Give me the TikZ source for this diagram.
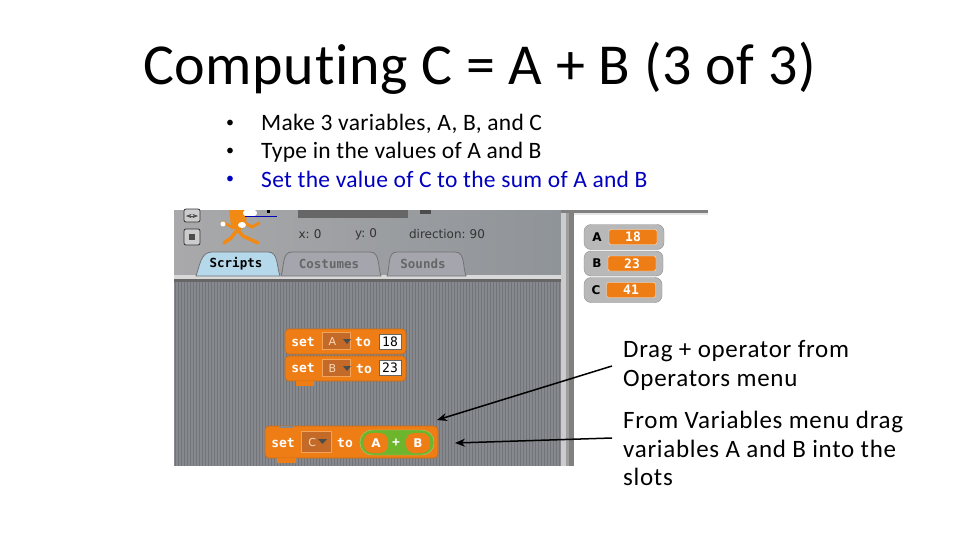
\documentclass[tikz,border=0pt]{standalone}
\usepackage{fontspec}
\setmainfont{Carlito}[RawFeature=-liga]
\newfontfamily\titlefont{Carlito}[LetterSpace=1.15,RawFeature=-liga]
\newfontfamily\bodyfont{Carlito}[LetterSpace=1.3,RawFeature=-liga]
\newfontfamily\notefont{Carlito}[LetterSpace=2.8,RawFeature=-liga]
\newfontfamily\blockfont{DejaVu Sans}
\newfontfamily\pixelfont{DejaVu Sans Mono}
\usetikzlibrary{arrows.meta}
\definecolor{blockorange}{HTML}{EE7D16}
\definecolor{slotbrown}{HTML}{C46A28}
\definecolor{panelgray}{HTML}{A9A9AB}
\definecolor{panelblue}{HTML}{8F9498}
\definecolor{stripegray}{HTML}{868A8E}
\definecolor{stripedark}{HTML}{72747A}
\definecolor{tabgray}{HTML}{A4A5AD}
\definecolor{tabblue}{HTML}{B5D8EA}
\definecolor{opgreen}{HTML}{6CB52D}
\definecolor{linkblue}{HTML}{0000C0}
\tikzset{
  textline/.style={anchor=base west,inner sep=0pt,font=\bodyfont\fontsize{23.5}{24}\selectfont},
  noteline/.style={anchor=base west,inner sep=0pt,font=\notefont\fontsize{25}{29}\selectfont},
  bulletdot/.style={anchor=center,inner sep=0pt,font=\fontsize{16}{18}\selectfont},
  block/.style={draw=blockorange!85!black,fill=blockorange,rounded corners=4pt,line width=.6pt,inner sep=0pt},
  blocktxt/.style={inner sep=0pt,text=white,font=\pixelfont\bfseries\fontsize{13}{13}\selectfont},
  slot/.style={draw=blockorange!70!white,fill=slotbrown,inner sep=0pt,minimum width=28pt,minimum height=17pt,text=blockorange!30!white,font=\blockfont\fontsize{11}{12}\selectfont},
  numbox/.style={draw=black!60,fill=white,inner sep=0pt,minimum width=22pt,minimum height=15pt,font=\pixelfont\fontsize{13}{13}\selectfont},
  oval/.style={fill=blockorange,rounded corners=8pt,inner sep=0pt,minimum width=24pt,minimum height=20pt,text=white,font=\blockfont\bfseries\fontsize{12}{12}\selectfont},
  tabbox/.style={draw=black!55,rounded corners=6pt,line width=.8pt},
  tabtxt/.style={inner sep=0pt,font=\pixelfont\bfseries\fontsize{12.5}{13}\selectfont},
  watcher/.style={fill=black!28,draw=black!45,rounded corners=7pt,inner sep=0pt,minimum height=25pt},
  watchval/.style={fill=blockorange,draw=white!85!orange,rounded corners=2pt,inner sep=0pt,minimum height=15pt,text=white,font=\pixelfont\bfseries\fontsize{13}{13}\selectfont},
  watchname/.style={inner sep=0pt,font=\blockfont\bfseries\fontsize{12}{12}\selectfont},
  smalltxt/.style={inner sep=0pt,text=black!80,font=\blockfont\fontsize{12}{12}\selectfont},
  pointer/.style={-{Stealth[length=10pt,width=8pt]},line width=1.5pt}
}
\begin{document}
\begin{tikzpicture}[x=1pt,y=-1pt]
  \useasboundingbox (0,0) rectangle (960,540);
  \fill[white] (0,0) rectangle (960,540);
  \node[anchor=base,inner sep=0pt,font=\titlefont\fontsize{58}{60}\selectfont] (title) at (479.5,85) {Computing C = A + B (3 of 3)};
  \path (230,124) node[bulletdot] (b1) {•} (230,152) node[bulletdot] (b2) {•}
  (230,180) node[bulletdot,text=linkblue] (b3) {•};
  \node[textline] (t1) at (261,131) {Make 3 variables, A, B, and C};
  \node[textline] (t2) at (261,159) {Type in the values of A and B};
  \node[textline,text=linkblue] (t3) at (261,187) {Set the value of C to the sum of A and B};
  % screenshot
  \fill[left color=panelgray,right color=panelblue] (174,210) rectangle (561,275);
  \fill[black!15] (174,275) rectangle (566,279);
  \fill[black!60] (174,279) rectangle (561,282);
  \fill[stripegray] (174,282) rectangle (561,466);
  \foreach \i in {0,...,128}
    \draw[stripedark,line width=.9pt] (175+3*\i,282) -- (175+3*\i,466);
  \fill[black!20] (561,210) rectangle (566,466);
  \fill[black!38] (566,210) rectangle (569,466);
  \fill[black!50] (569,210) rectangle (574,466);
  \fill[black!50] (561,210) rectangle (708,213);
  \fill[black!10] (574,213) rectangle (708,215);
  \fill[black!60] (298,210) rectangle (408,218);
  \fill[black!70] (420,210) rectangle (431,214);
  % stage buttons
  \draw[black!80,fill=black!20,rounded corners=2pt,line width=.8pt] (184,209) rectangle (200,222);
  \draw[black!80,fill=black!20,rounded corners=2pt,line width=.8pt] (184,229) rectangle (200,245);
  \fill[black!70] (189,234) rectangle (195,240);
  \draw[black!70,<->,>=Stealth,line width=.6pt] (186,216) -- (198,216);
  % sprite
  \fill[blockorange!90!yellow] (229,210) -- (247,210) -- (246,226) -- (238,232) -- (231,226) -- cycle;
  \draw[blockorange!90!yellow,line width=3.5pt,line cap=round] (236,228) -- (243,236) -- (258,243);
  \draw[blockorange!90!yellow,line width=3.5pt,line cap=round] (237,230) -- (231,238) -- (224,243);
  \draw[blockorange!90!yellow,line width=3pt,line cap=round] (243,222) -- (252,227) -- (259,223);
  \draw[blockorange!90!yellow,line width=2.5pt,line cap=round] (233,228) -- (223,222);
  \fill[white] (223,224) circle (2.5pt);
  \fill[white] (242,225) ellipse (4pt and 3pt);
  \fill[white] (250,213) ellipse (7pt and 4pt);
  \fill[black] (267,210) rectangle (270,213);
  \draw[blue!70!black,line width=.6pt] (245,216) -- (277,216);
  \node[smalltxt] (xlabel) at (310,234) {x:\,\,0};
  \node[smalltxt] (ylabel) at (366,234) {y:\,\,0};
  \node[smalltxt] (dirlabel) at (447,234) {direction:\,\,90};
  % tabs
  \draw[tabbox,fill=tabblue,sharp corners] (196,276) to[out=70,in=180] (212,252) -- (268,252) to[out=0,in=110] (280,276) -- cycle;
  \draw[tabbox,fill=tabgray,sharp corners] (281,276) to[out=70,in=180] (292,252) -- (370,252) to[out=0,in=110] (381,276) -- cycle;
  \draw[tabbox,fill=tabgray,sharp corners] (387,276) to[out=70,in=180] (397,252) -- (455,252) to[out=0,in=110] (466,276) -- cycle;
  \node[tabtxt] (scripts) at (236,264) {Scripts};
  \node[tabtxt,text=black!60] (costumes) at (329,264) {Costumes};
  \node[tabtxt,text=black!60] (sounds) at (423,264) {Sounds};
  % blocks
  \draw[block] (285,329) rectangle (406,354);
  \draw[block] (285,356) rectangle (406,381);
  \fill[blockorange] (296,381) rectangle (314,386);
  \draw[block] (265,426) rectangle (438,458);
  \fill[blockorange] (277,458) rectangle (296,463);
  \fill[stripegray] (280,425.5) rectangle (293,428);
  \node[blocktxt] (seta) at (303,342) {set};
  \node[slot] (slota) at (336,341) {A\,\,\,\,};
  \node[blocktxt] (toa) at (363,342) {to};
  \node[numbox] (numa) at (390,342) {18};
  \node[blocktxt] (setb) at (303,368) {set};
  \node[slot] (slotb) at (336,368) {B\,\,\,\,};
  \node[blocktxt] (tob) at (364,369) {to};
  \node[numbox] (numb) at (390,368) {23};
  \path[fill=black!70] (343,339) -- (351,339) -- (347,344) -- cycle;
  \path[fill=black!70] (343,366) -- (351,366) -- (347,371) -- cycle;
  \node[blocktxt] (setc) at (283,443) {set};
  \node[slot,minimum width=30pt,minimum height=21pt] (slotc) at (316,442) {C\,\,\,\,};
  \path[fill=black!70] (318,439) -- (327,439) -- (322.5,444) -- cycle;
  \node[blocktxt] (toc) at (345,443) {to};
  \draw[draw=opgreen!60!white,fill=opgreen,rounded corners=12pt] (360,430) rectangle (434,455);
  \node[oval] (opa) at (376,443) {A};
  \node[blocktxt] (plus) at (396,443) {+};
  \node[oval] (opb) at (418,443) {B};
  % variables
  \node[watcher,minimum width=80pt] (wa) at (624,237) {};
  \node[watcher,minimum width=79pt] (wb) at (623.5,263.5) {};
  \node[watcher,minimum width=78pt] (wc) at (623,290) {};
  \node[watchname] (na) at (597,237) {A};
  \node[watchname] (nb) at (597,263.5) {B};
  \node[watchname] (nc) at (596,290) {C};
  \node[watchval,minimum width=48pt] (va) at (633,237) {18};
  \node[watchval,minimum width=48pt] (vb) at (632,263.5) {23};
  \node[watchval,minimum width=49pt] (vc) at (631,290) {41};
  % notes
  \node[noteline] (n1) at (623,357) {Drag + operator from};
  \node[noteline] (n2) at (623,386) {Operators menu};
  \node[noteline] (n3) at (623,428) {From Variables menu drag};
  \node[noteline] (n4) at (623,457) {variables A and B into the};
  \node[noteline] (n5) at (623,485) {slots};
  \coordinate (s1) at (612,366);
  \coordinate (e1) at (437,420);
  \coordinate (s2) at (612,438);
  \coordinate (e2) at (455,443);
  \draw[pointer] (s1) -- (e1);
  \draw[pointer] (s2) -- (e2);
\end{tikzpicture}
\end{document}
